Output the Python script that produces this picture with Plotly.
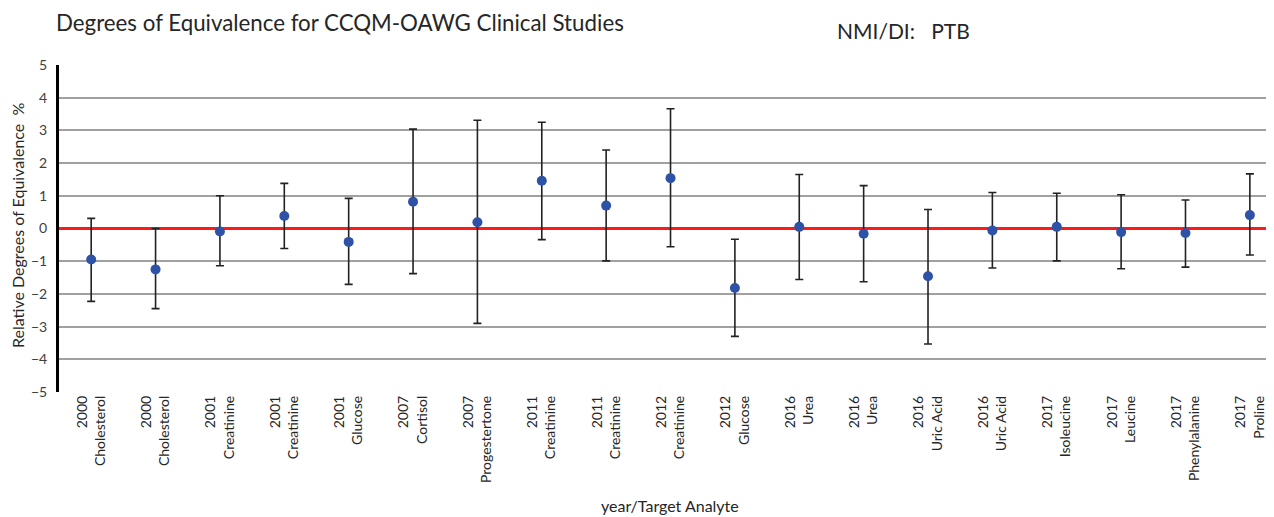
import plotly.graph_objects as go

years = ["2000", "2000", "2001", "2001", "2001", "2007", "2007", "2011", "2011", "2012",
         "2012", "2016", "2016", "2016", "2016", "2017", "2017", "2017", "2017"]
analytes = ["Cholesterol", "Cholesterol", "Creatinine", "Creatinine", "Glucose", "Cortisol",
            "Progestertone", "Creatinine", "Creatinine", "Creatinine", "Glucose", "Urea", "Urea",
            "Uric Acid", "Uric Acid", "Isoleucine", "Leucine", "Phenylalanine", "Proline"]
doe = [-0.95, -1.25, -0.09, 0.38, -0.41, 0.82, 0.19, 1.46, 0.70, 1.54,
       -1.82, 0.05, -0.16, -1.46, -0.06, 0.05, -0.11, -0.14, 0.41]
upper = [0.31, 0.00, 1.00, 1.38, 0.92, 3.04, 3.31, 3.25, 2.40, 3.66,
         -0.33, 1.65, 1.31, 0.58, 1.10, 1.08, 1.03, 0.87, 1.67]
lower = [-2.23, -2.45, -1.14, -0.61, -1.71, -1.38, -2.90, -0.34, -0.99, -0.56,
         -3.30, -1.56, -1.63, -3.53, -1.21, -0.99, -1.23, -1.18, -0.81]
y_ticks = [-5, -4, -3, -2, -1, 0, 1, 2, 3, 4, 5]

labels = [f"{y}<br>{a}" for y, a in zip(years, analytes)]
idx = list(range(len(labels)))
err_plus = [u - d for u, d in zip(upper, doe)]
err_minus = [d - l for d, l in zip(doe, lower)]

FONT = "Lato"
OFF = 8  # page body margin
W, H = 1274 - OFF, 517 - OFF
ML, MR, MT, MB = 59 - OFF, 0, 65 - OFF, 125
PW, PH = W - ML - MR, H - MT - MB

fig = go.Figure()
fig.add_trace(go.Scatter(
    x=idx, y=doe, mode="markers",
    marker=dict(color="#2E52A6", size=10),
    error_y=dict(type="data", symmetric=False, array=err_plus, arrayminus=err_minus,
                 color="#222222", thickness=1.6, width=4),
    showlegend=False,
))

fig.update_layout(
    width=W, height=H,
    margin=dict(l=ML, r=MR, t=MT, b=MB),
    paper_bgcolor="white", plot_bgcolor="white",
    font=dict(family=FONT, color="#404040", size=14),
    xaxis=dict(
        range=[-0.5, 18.375], tickmode="array", tickvals=idx, ticktext=labels,
        tickangle=-90, showgrid=False, zeroline=False, showline=False, ticks="",
        tickfont=dict(size=14, color="#262626"), automargin=False,
    ),
    yaxis=dict(
        range=[-5, 5], tickmode="array", tickvals=y_ticks,
        showgrid=True, gridcolor="#A0A0A0", gridwidth=2,
        zeroline=True, zerolinecolor="#FF1A1A", zerolinewidth=3,
        showline=True, linecolor="#000000", linewidth=3, ticks="",
        tickfont=dict(size=14, color="#404040"), ticklabelstandoff=6, automargin=False,
    ),
    annotations=[
        dict(text="Degrees of Equivalence for CCQM-OAWG Clinical Studies", xref="paper", yref="paper",
             x=0.0, y=1.0, xanchor="left", yanchor="middle", xshift=-5, yshift=65 - 22, showarrow=False,
             font=dict(size=22.3, color="#262626", family=FONT)),
        dict(text="NMI/DI:   PTB", xref="paper", yref="paper",
             x=(838 - 59) / PW, y=1.0, xanchor="left", yanchor="middle", xshift=-3, yshift=65 - 30, showarrow=False,
             font=dict(size=21, color="#262626", family=FONT)),
        dict(text="year/Target Analyte", xref="paper", yref="paper",
             x=(670 - 59) / PW, y=0.0, xanchor="center", yanchor="middle", yshift=-(505 - 392), showarrow=False,
             font=dict(size=16, color="#262626", family=FONT)),
        dict(text="Relative Degrees of Equivalence  %", xref="paper", yref="paper",
             x=0.0, y=(392 - 226) / PH, xanchor="center", yanchor="middle", xshift=17 - 59, textangle=-90,
             showarrow=False, font=dict(size=16, color="#262626", family=FONT)),
    ],
)

fig.write_html("out.html")
